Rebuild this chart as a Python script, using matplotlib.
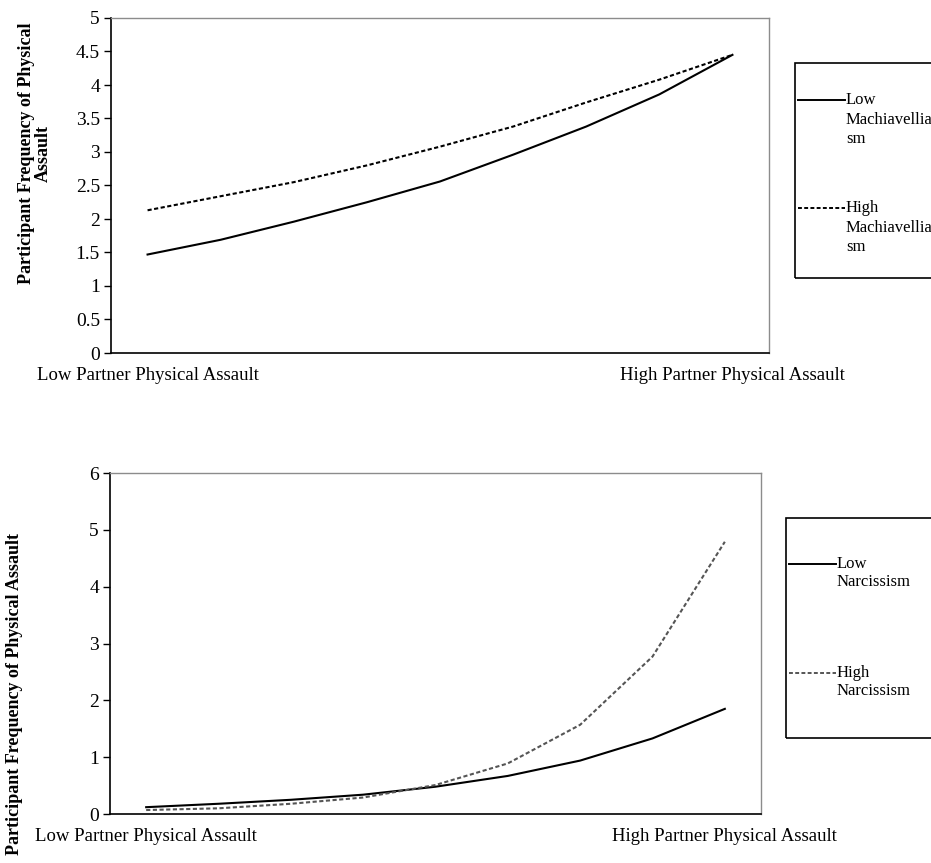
import matplotlib.pyplot as plt
import numpy as np
from matplotlib.patches import Rectangle

plt.rcParams['font.family'] = ['Liberation Serif', 'DejaVu Serif']

# 9 categories on the partner assault axis, only the ends are labelled
x_labels = ['Low Partner Physical Assault', '', '', '', '', '', '', '',
            'High Partner Physical Assault']

# panel 1: Machiavellianism
low_mach = [1.47, 1.69, 1.96, 2.25, 2.56, 2.96, 3.38, 3.86, 4.45]
high_mach = [2.13, 2.34, 2.55, 2.80, 3.08, 3.38, 3.74, 4.08, 4.45]

# panel 2: Narcissism
low_narc = [0.12, 0.18, 0.25, 0.34, 0.48, 0.67, 0.94, 1.33, 1.85]
high_narc = [0.07, 0.10, 0.18, 0.29, 0.51, 0.89, 1.57, 2.77, 4.79]

W, H = 931, 863
fig = plt.figure(figsize=(W / 100, H / 100), dpi=100)


def fx(px):
    return px / W


def fy(py):
    return 1 - py / H


def style_axes(ax, ymax, ystep):
    x = np.arange(len(x_labels))
    ax.set_xlim(-0.5, len(x_labels) - 0.5)
    ax.set_ylim(0, ymax)
    ax.set_yticks(np.arange(0, ymax + 0.001, ystep))
    ax.set_yticklabels([('%g' % v) for v in np.arange(0, ymax + 0.001, ystep)])
    ax.set_xticks(x)
    ax.set_xticklabels(x_labels)
    ax.tick_params(axis='x', length=0, pad=10, labelsize=13.5)
    ax.tick_params(axis='y', length=5, width=1, pad=3, labelsize=14, direction='out')
    for s in ['top', 'right']:
        ax.spines[s].set_color('#8c8c8c')
        ax.spines[s].set_linewidth(1)
    for s in ['left', 'bottom']:
        ax.spines[s].set_color('black')
        ax.spines[s].set_linewidth(1.2)


def draw_legend(box, entries):
    # box = (left, top, bottom) in pixels, entries = (y, dash, colour, label lines, gap)
    left, top, bottom = box
    fig.add_artist(Rectangle((fx(left), fy(bottom)), fx(W - left + 20), fy(top) - fy(bottom),
                             transform=fig.transFigure, fill=False,
                             edgecolor='black', linewidth=1.2))
    for y, ls, col, text, gap in entries:
        fig.add_artist(plt.Line2D([fx(left + 3), fx(left + 50)], [fy(y), fy(y)],
                                  transform=fig.transFigure, color=col,
                                  linestyle=ls, linewidth=1.4))
        for i, line in enumerate(text):
            fig.text(fx(left + 51), fy(y + i * gap), line, fontsize=12,
                     ha='left', va='center')


# ---- top panel
ax1 = fig.add_axes([fx(111), fy(353), fx(769 - 111), fy(18) - fy(353)])
xs = np.arange(len(x_labels))
ax1.plot(xs, low_mach, color='black', linewidth=1.5, linestyle='-')
ax1.plot(xs, high_mach, color='black', linewidth=1.5, linestyle=(0, (2.0, 1.2)))
style_axes(ax1, 5, 0.5)
fig.text(fx(35), fy(153), 'Participant Frequency of Physical\nAssault',
         rotation=90, ha='center', va='center', fontsize=13,
         fontweight='bold', linespacing=0.95)

draw_legend((795, 63, 278), [
    (100, '-', 'black', ['Low', 'Machiavellian', 'sm'], 19.5),
    (208, (0, (2.0, 1.2)), 'black', ['High', 'Machiavellian', 'sm'], 19.5),
])

# ---- bottom panel
ax2 = fig.add_axes([fx(110), fy(814), fx(761 - 110), fy(473) - fy(814)])
ax2.plot(xs, low_narc, color='black', linewidth=1.5, linestyle='-')
ax2.plot(xs, high_narc, color='#555555', linewidth=1.5, linestyle=(0, (2.0, 1.2)))
style_axes(ax2, 6, 1)
fig.text(fx(15), fy(694), 'Participant Frequency of Physical Assault',
         rotation=90, ha='center', va='center', fontsize=13, fontweight='bold')

draw_legend((786, 518, 738), [
    (564, '-', 'black', ['Low', 'Narcissism'], 17.5),
    (673, (0, (2.0, 1.2)), '#555555', ['High', 'Narcissism'], 17.5),
])

plt.savefig('out.png', dpi=100)
